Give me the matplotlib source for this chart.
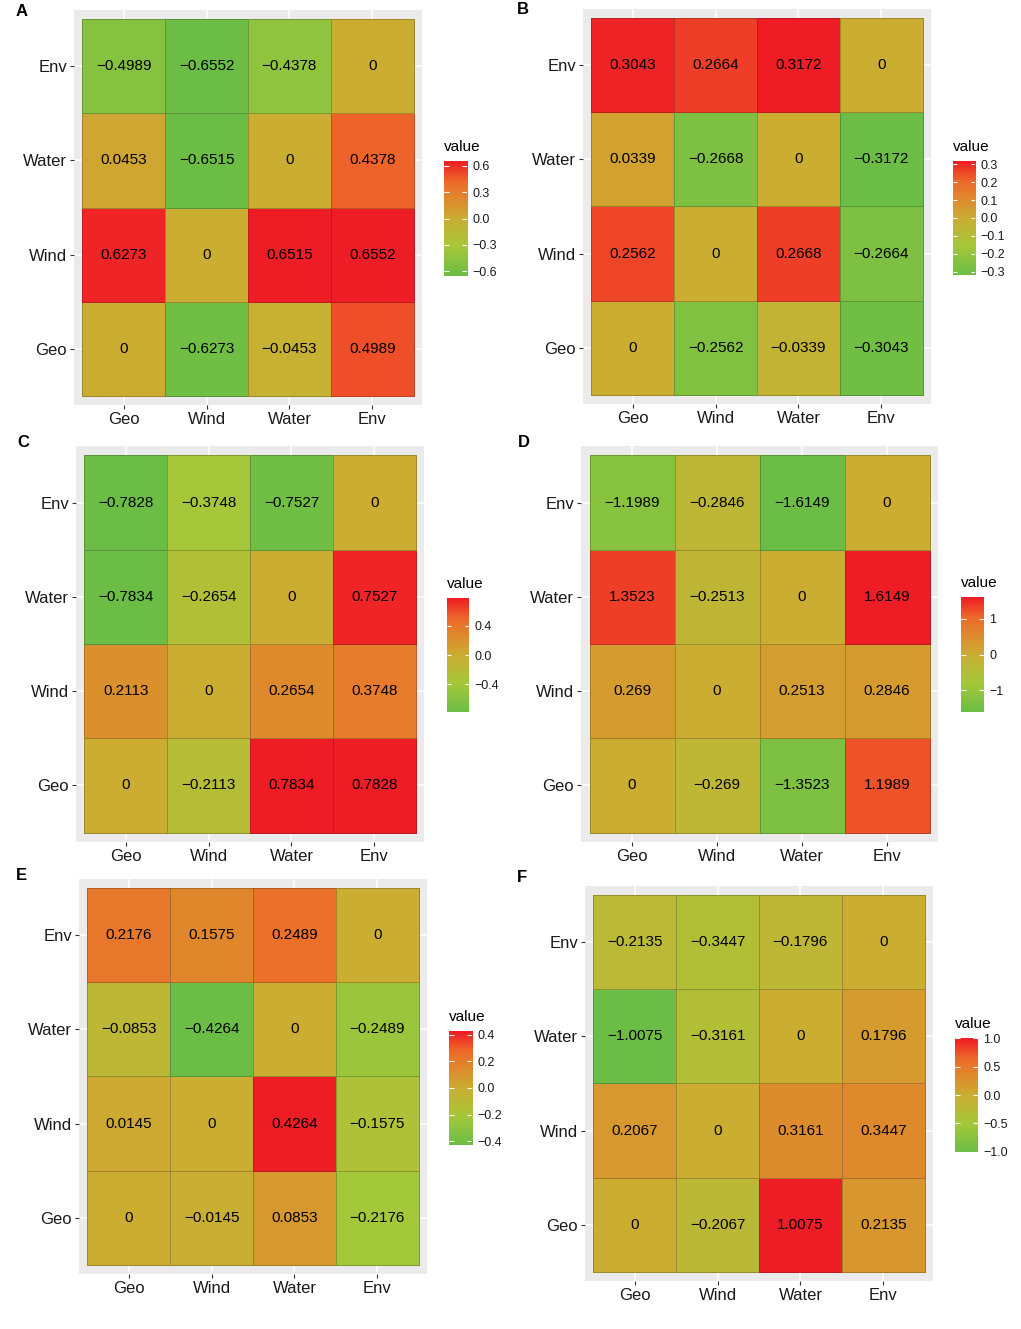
import matplotlib
matplotlib.use('Agg')
import matplotlib.pyplot as plt
import numpy as np
from matplotlib.colors import LinearSegmentedColormap

plt.rcParams['font.family'] = ['Liberation Sans', 'DejaVu Sans']

# Categories (rows listed bottom to top: Geo, Wind, Water, Env; columns left to right)
cats = ['Geo', 'Wind', 'Water', 'Env']

# Matrix values per panel, row order = Geo, Wind, Water, Env (y), column order = cats (x)
vals_a = [[0, -0.6273, -0.0453, 0.4989],
          [0.6273, 0, 0.6515, 0.6552],
          [0.0453, -0.6515, 0, 0.4378],
          [-0.4989, -0.6552, -0.4378, 0]]
vals_b = [[0, -0.2562, -0.0339, -0.3043],
          [0.2562, 0, 0.2668, -0.2664],
          [0.0339, -0.2668, 0, -0.3172],
          [0.3043, 0.2664, 0.3172, 0]]
vals_c = [[0, -0.2113, 0.7834, 0.7828],
          [0.2113, 0, 0.2654, 0.3748],
          [-0.7834, -0.2654, 0, 0.7527],
          [-0.7828, -0.3748, -0.7527, 0]]
vals_d = [[0, -0.269, -1.3523, 1.1989],
          [0.269, 0, 0.2513, 0.2846],
          [1.3523, -0.2513, 0, 1.6149],
          [-1.1989, -0.2846, -1.6149, 0]]
vals_e = [[0, -0.0145, 0.0853, -0.2176],
          [0.0145, 0, 0.4264, -0.1575],
          [-0.0853, -0.4264, 0, -0.2489],
          [0.2176, 0.1575, 0.2489, 0]]
vals_f = [[0, -0.2067, 1.0075, 0.2135],
          [0.2067, 0, 0.3161, 0.3447],
          [-1.0075, -0.3161, 0, 0.1796],
          [-0.2135, -0.3447, -0.1796, 0]]

# Legend ticks and their labels
ticks_a = [0.6, 0.3, 0.0, -0.3, -0.6]
ticks_b = [0.3, 0.2, 0.1, 0.0, -0.1, -0.2, -0.3]
ticks_c = [0.4, 0.0, -0.4]
ticks_d = [1, 0, -1]
ticks_e = [0.4, 0.2, 0.0, -0.2, -0.4]
ticks_f = [1.0, 0.5, 0.0, -0.5, -1.0]
tick_fmt = ['{:.1f}', '{:.1f}', '{:.1f}', '{:.0f}', '{:.1f}', '{:.1f}']

panel_letters = ['A', 'B', 'C', 'D', 'E', 'F']
all_vals = [vals_a, vals_b, vals_c, vals_d, vals_e, vals_f]
all_ticks = [ticks_a, ticks_b, ticks_c, ticks_d, ticks_e, ticks_f]

# Layout in pixels: grey panel box, legend bar box, letter position
W, H = 1021, 1329
panel_box = [(74, 10, 422, 405), (583, 9, 931, 404),
             (76, 446, 424, 842), (581, 446, 938, 842),
             (79, 879, 427, 1274), (585, 886, 933, 1281)]
bar_box = [(444, 161, 467, 276), (953, 161, 975, 275),
           (447, 598, 469, 712), (961, 597, 984, 712),
           (449, 1031, 472, 1145), (955, 1038, 978, 1152)]
letter_pos = [(16, 12), (517, 10), (17, 443), (518, 443), (16, 876), (517, 877)]

cmap = LinearSegmentedColormap.from_list('gyr', [
    (0.00, '#6BBD45'), (0.25, '#A5C83A'), (0.50, '#CBAD32'),
    (0.68, '#DF882C'), (0.82, '#EE6A2A'), (1.00, '#EE1C25')])

text_col = '#1A1A1A'


def px_axes(fig, box):
    x0, y0, x1, y1 = box
    return fig.add_axes([x0 / W, 1 - y1 / H, (x1 - x0) / W, (y1 - y0) / H])


def fmt_val(v):
    s = '0' if v == 0 else f'{v:g}'
    return s.replace('-', '\u2212')


fig = plt.figure(figsize=(W / 100, H / 100), dpi=100)

for i in range(6):
    vals = np.array(all_vals[i], dtype=float)
    vmax = np.abs(vals).max()

    ax = px_axes(fig, panel_box[i])
    ax.set_facecolor('#EBEBEB')
    ax.pcolormesh(np.arange(5) - 0.5, np.arange(5) - 0.5, vals, cmap=cmap,
                  vmin=-vmax, vmax=vmax, edgecolors=(0.1, 0.1, 0.1, 0.25),
                  linewidth=0.6, zorder=2)
    for r in range(4):
        for c in range(4):
            ax.text(c, r, fmt_val(vals[r, c]), ha='center', va='center',
                    fontsize=11, color='black', zorder=3)
    ax.set_xlim(-0.6, 3.6)
    ax.set_ylim(-0.6, 3.6)
    ax.set_xticks(range(4))
    ax.set_yticks(range(4))
    ax.set_xticklabels(cats, fontsize=12, color=text_col)
    ax.set_yticklabels(cats, fontsize=12, color=text_col)
    ax.tick_params(length=3, width=0.8, color='#333333', pad=2)
    ax.grid(True, color='white', linewidth=1.1, zorder=1)
    ax.set_axisbelow(True)
    for sp in ax.spines.values():
        sp.set_visible(False)

    # colour bar legend
    cax = px_axes(fig, bar_box[i])
    grad = np.linspace(-vmax, vmax, 256).reshape(-1, 1)
    cax.imshow(grad, cmap=cmap, vmin=-vmax, vmax=vmax, origin='lower',
               extent=[0, 1, -vmax, vmax], aspect='auto')
    ticks = all_ticks[i]
    cax.hlines(ticks, 0, 0.2, color='white', linewidth=0.8)
    cax.hlines(ticks, 0.8, 1, color='white', linewidth=0.8)
    cax.set_xlim(0, 1)
    cax.set_ylim(-vmax, vmax)
    cax.set_xticks([])
    cax.yaxis.tick_right()
    cax.set_yticks(ticks)
    cax.set_yticklabels([tick_fmt[i].format(t).replace('-', '\u2212') for t in ticks],
                        fontsize=9, color=text_col)
    cax.tick_params(axis='y', length=0, pad=4)
    for sp in cax.spines.values():
        sp.set_visible(False)

    bx0, by0 = bar_box[i][0], bar_box[i][1]
    fig.text(bx0 / W, 1 - (by0 - 14) / H, 'value', fontsize=11,
             ha='left', va='center', color='black')

    lx, ly = letter_pos[i]
    fig.text(lx / W, 1 - ly / H, panel_letters[i], fontsize=12,
             fontweight='bold', ha='left', va='center', color='black')

fig.savefig('out.png', dpi=100)
